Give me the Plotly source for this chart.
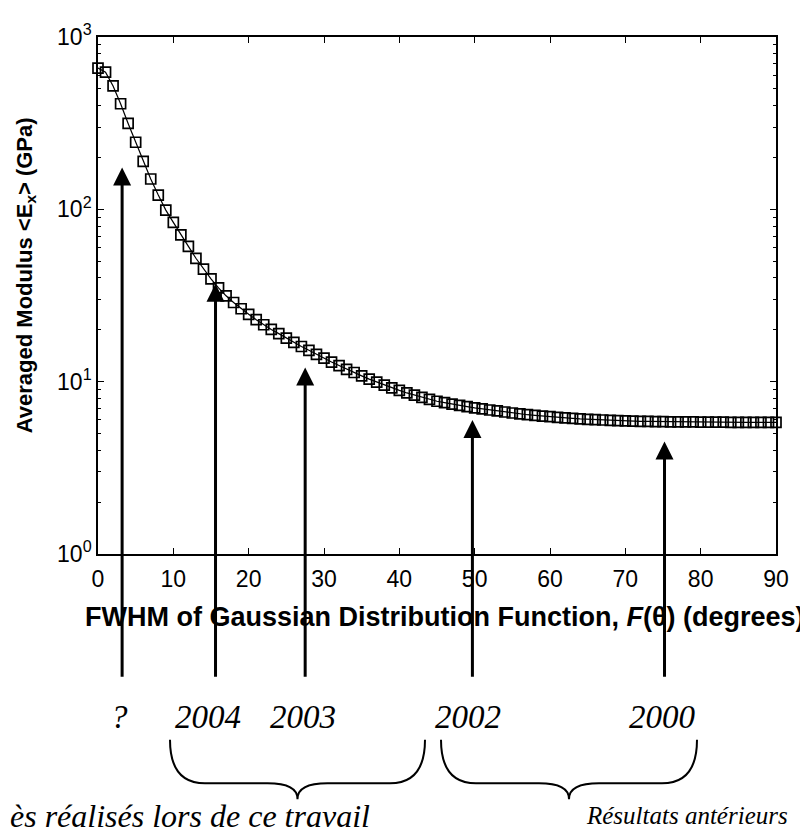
import math
import plotly.graph_objects as go

# ---------------- data ----------------
fwhm_deg = list(range(0, 91))
modulus_gpa = [
    660, 625, 520, 410, 315, 245, 190, 150, 121, 99,
    84, 71, 61, 52, 45, 39.5, 35, 31.5, 28.8, 26.5,
    24.6, 22.9, 21.4, 20.1, 19.0, 17.9, 16.9, 16.0, 15.2, 14.4,
    13.7, 13.0, 12.4, 11.8, 11.3, 10.8, 10.35, 9.95, 9.55, 9.2,
    8.9, 8.6, 8.35, 8.1, 7.9, 7.7, 7.55, 7.4, 7.28, 7.16,
    7.05, 6.95, 6.85, 6.76, 6.67, 6.58, 6.5, 6.43, 6.37, 6.31,
    6.26, 6.21, 6.16, 6.12, 6.08, 6.05, 6.02, 5.99, 5.96, 5.94,
    5.92, 5.9, 5.89, 5.88, 5.87, 5.86, 5.85, 5.85, 5.84, 5.84,
    5.83, 5.83, 5.82, 5.82, 5.81, 5.81, 5.8, 5.8, 5.8, 5.8, 5.8,
]

x_ticks = [0, 10, 20, 30, 40, 50, 60, 70, 80, 90]
y_ticks = [1, 10, 100, 1000]
y_ticktext = ["10<sup>0</sup>", "10<sup>1</sup>", "10<sup>2</sup>", "10<sup>3</sup>"]
y_minor = [m * 10 ** d for d in range(0, 3) for m in range(2, 10)]

x_title = "FWHM of Gaussian Distribution Function, <i>F</i>(θ) (degrees)"
y_title = "Averaged Modulus &lt;E<sub>x</sub>&gt; (GPa)"

arrow_labels = ["?", "2004", "2003", "2002", "2000"]
arrow_x_deg = [3.2, 15.6, 27.5, 49.7, 75.2]
label_x_deg = [2.9, 14.6, 27.2, 49.1, 74.9]
arrow_tip_gpa = [175, 37, 12.1, 6.0, 4.5]
arrow_tail_gpa = 0.19

group_labels = ["ès réalisés lors de ce travail", "Résultats antérieurs"]

# ---------------- layout geometry ----------------
# page body adds an 8px offset; figure size reduced accordingly
OFF = 8
W, H = 800, 828
L, R, T, B = 90, 32, 23, 282
PW, PH = W - L - R, H - T - B


def px(xs):
    """screen x pixel -> paper coordinate"""
    return (xs - OFF - L) / PW


def py(ys):
    """screen y pixel -> paper coordinate"""
    return (H - B - (ys - OFF)) / PH


fig = go.Figure()
fig.add_trace(go.Scatter(
    x=fwhm_deg, y=modulus_gpa, mode="lines+markers",
    line=dict(color="black", width=1.2),
    marker=dict(symbol="square-open", size=10, color="black",
                line=dict(color="black", width=1.7)),
    showlegend=False, cliponaxis=False,
))

SANS = "Liberation Sans, Arial, sans-serif"
tickfont = dict(family=SANS, size=23, color="black")

fig.update_xaxes(
    range=[0, 90], tickmode="array", tickvals=x_ticks, ticks="inside", ticklen=6,
    tickwidth=1.3, tickcolor="black",
    showline=True, linecolor="black", linewidth=1.6, mirror="ticks",
    showgrid=False, zeroline=False, tickfont=tickfont, ticklabelstandoff=4,
)
fig.update_yaxes(
    type="log", range=[0, 3], tickmode="array", tickvals=y_ticks, ticktext=y_ticktext,
    ticks="inside", ticklen=6, tickwidth=1.3, tickcolor="black",
    minor=dict(tickmode="array", tickvals=y_minor, ticks="inside", ticklen=3,
               tickwidth=1, tickcolor="black"),
    showline=True, linecolor="black", linewidth=1.6, mirror="ticks",
    showgrid=False, zeroline=False, tickfont=tickfont,
)

annotations = [
    dict(x=px(445), y=py(618), xref="paper", yref="paper", text=x_title,
         showarrow=False, xanchor="center", yanchor="middle",
         font=dict(family=SANS, size=27, color="black", weight="bold")),
    dict(x=px(26), y=py(272), xref="paper", yref="paper", text=y_title,
         showarrow=False, xanchor="center", yanchor="middle", textangle=-90,
         font=dict(family=SANS, size=22, color="black", weight="bold")),
]
for xd, tip in zip(arrow_x_deg, arrow_tip_gpa):
    annotations.append(dict(
        x=xd, y=math.log10(tip), xref="x", yref="y",
        ax=xd, ay=math.log10(arrow_tail_gpa), axref="x", ayref="y",
        text="", showarrow=True, arrowhead=2, arrowsize=1.2, arrowwidth=3,
        arrowcolor="black",
    ))
for lab, xd in zip(arrow_labels, label_x_deg):
    annotations.append(dict(
        x=xd, y=py(719), xref="x", yref="paper", text=lab, showarrow=False,
        font=dict(family="Liberation Serif", size=33, color="black", style="italic"),
        xanchor="center", yanchor="middle",
    ))

annotations.append(dict(
    x=px(372), y=py(819), xref="paper", yref="paper", text=group_labels[0],
    showarrow=False, xanchor="right", yanchor="middle",
    font=dict(family="Liberation Serif", size=32, color="black", style="italic"),
))
annotations.append(dict(
    x=px(790), y=py(819), xref="paper", yref="paper", text=group_labels[1],
    showarrow=False, xanchor="right", yanchor="middle",
    font=dict(family="Liberation Serif", size=25, color="black", style="italic"),
))


def brace(xa, xb, ytop, ymid, ytip):
    xc = (xa + xb) / 2
    pts = [
        f"M {px(xa)},{py(ytop)}",
        f"Q {px(xa)},{py(ymid)} {px(xa + 35)},{py(ymid)}",
        f"L {px(xc - 30)},{py(ymid)}",
        f"Q {px(xc)},{py(ymid)} {px(xc)},{py(ytip)}",
        f"Q {px(xc)},{py(ymid)} {px(xc + 30)},{py(ymid)}",
        f"L {px(xb - 35)},{py(ymid)}",
        f"Q {px(xb)},{py(ymid)} {px(xb)},{py(ytop)}",
    ]
    return dict(type="path", path=" ".join(pts), xref="paper", yref="paper",
                line=dict(color="black", width=2))


fig.update_layout(
    width=W, height=H,
    margin=dict(l=L, r=R, t=T, b=B),
    paper_bgcolor="white", plot_bgcolor="white",
    font=dict(family=SANS, color="black"),
    annotations=annotations,
    shapes=[brace(170, 425, 742, 786, 802), brace(441, 697, 742, 786, 802)],
)

fig.write_html("out.html")
